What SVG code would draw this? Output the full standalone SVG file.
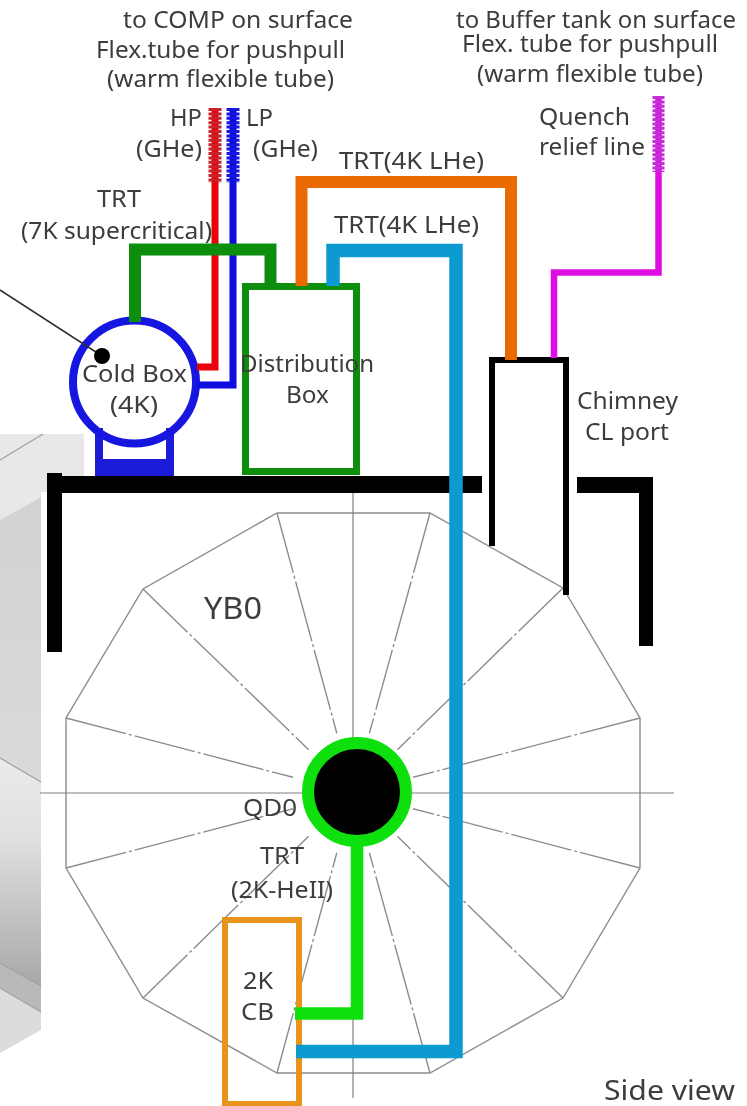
<svg xmlns="http://www.w3.org/2000/svg" width="747" height="1106" viewBox="0 0 747 1106">
<style>
text{font-family:"Noto Sans","Open Sans","Liberation Sans",sans-serif;font-size:23px;fill:#3c3c3c;}
.m{text-anchor:middle}
.p{fill:none;stroke-linejoin:miter}
.o{fill:none;stroke:#8c8c8c;stroke-width:1.4}
.r{stroke:#8c8c8c;stroke-width:1.4;stroke-dasharray:62 3 3 3}
.a{stroke:#808080;stroke-width:1.2}
.rib{stroke-dasharray:3 1.4;stroke-width:13;fill:none}
</style>
<defs>
<linearGradient id="g1" x1="0" y1="0" x2="0" y2="1"><stop offset="0" stop-color="#ebebeb"/><stop offset=".35" stop-color="#e0e0e0"/><stop offset="1" stop-color="#a8a8a8"/></linearGradient>
<linearGradient id="g2" x1="0" y1="0" x2="0" y2="1"><stop offset="0" stop-color="#d2d2d2"/><stop offset="1" stop-color="#dadada"/></linearGradient>
<filter id="soft" x="-2%" y="-2%" width="104%" height="104%"><feGaussianBlur stdDeviation="0.6"/></filter>
</defs>
<rect width="747" height="1106" fill="#fff"/>
<g id="scene" filter="url(#soft)">
<g id="background-block">
<polygon points="0,434 84,434 84,476 47,476 47,492 41,492 41,497 0,520" fill="#e8e8e8"/>
<polygon points="0,520 41,497 41,782 0,758" fill="url(#g2)"/>
<polygon points="0,758 41,782 41,986 0,963" fill="url(#g1)"/>
<polygon points="0,963 41,986 41,1012 0,988" fill="#b9b9b9"/>
<polygon points="0,988 41,1012 41,1030 0,1053" fill="#dcdcdc"/>
<path d="M0 460L43 434M0 758L41 782M0 963L41 986M0 988L41 1012" stroke="#a0a0a0" stroke-width="1.2" fill="none"/>
</g>
<g id="YB0-wheel">
<polygon class="o" points="277,513 430,513 563,588 640,718 640,868 563,998 430,1073 277,1073 143,998 66,868 66,718 143,589"/>
<path class="r" d="M277 513L336.8 733.2M430 513L369.4 733.2M563 588L397.4 749.7M640 718L413 777.3M640 868L413 808.7M563 998L397.4 836.3M430 1073L369.4 852.8M277 1073L336.8 852.8M143 998L308.6 836.3M66 868L293 808.7M66 718L293 777.3M143 589L308.6 749.7"/>
<path class="a" d="M353 490V1098M40 793H674"/>
<text x="233" y="619" class="m" style="font-size:30px" textLength="58" lengthAdjust="spacingAndGlyphs">YB0</text>
</g>
<g id="tunnel">
<path fill="#000" d="M47 473H62V476H482V493H62V652H47Z"/>
<path fill="#000" d="M577 477H653V646H639V493H577Z"/>
</g>
<g id="chimney">
<path class="p" d="M492 546V360H566V595" stroke="#000" stroke-width="6"/>
<text x="627.5" y="409" class="m" textLength="101" lengthAdjust="spacingAndGlyphs">Chimney</text>
<text x="627" y="440" class="m" textLength="84" lengthAdjust="spacingAndGlyphs">CL port</text>
</g>
<g id="cold-box">
<path fill="none" stroke="#1a1ad8" stroke-width="8" d="M99 428V476M170 428V476"/>
<rect x="95" y="459" width="79" height="17" fill="#1a1ad8"/>
<circle cx="134.5" cy="382" r="61.5" fill="none" stroke="#1414e0" stroke-width="8"/>
<path d="M0 290L102 356" stroke="#333" stroke-width="1.5" fill="none"/>
<circle cx="102" cy="356" r="8" fill="#000"/>
<text x="134.5" y="382" class="m" textLength="105" lengthAdjust="spacingAndGlyphs">Cold Box</text>
<text x="134" y="413" class="m" textLength="48" lengthAdjust="spacingAndGlyphs">(4K)</text>
</g>
<g id="distribution-box">
<rect x="245.5" y="286.5" width="111" height="185" fill="none" stroke="#0a8f10" stroke-width="7"/>
<text x="307" y="372" class="m" textLength="134" lengthAdjust="spacingAndGlyphs">Distribution</text>
<text x="307.5" y="403" class="m" textLength="43" lengthAdjust="spacingAndGlyphs">Box</text>
</g>
<g id="CB-2K">
<rect x="225" y="920" width="74" height="184" fill="none" stroke="#e8941a" stroke-width="6"/>
<text x="258" y="989" class="m" textLength="30" lengthAdjust="spacingAndGlyphs">2K</text>
<text x="257.5" y="1020" class="m" textLength="33" lengthAdjust="spacingAndGlyphs">CB</text>
</g>
<g id="QD0">
<circle cx="357" cy="792" r="49" fill="#000" stroke="#10e010" stroke-width="12"/>
<text x="270" y="816" class="m" textLength="54" lengthAdjust="spacingAndGlyphs">QD0</text>
</g>
<g id="connectors">
<path class="p" d="M215 108V367H197" stroke="#e8000a" stroke-width="7"/>
<path class="rib" d="M215 108V183" stroke="#c8202c"/>
<path class="p" d="M233 108V385H197" stroke="#0a0adf" stroke-width="7"/>
<path class="rib" d="M233 108V183" stroke="#1515e0"/>
<path class="p" d="M135 322V249.5H270.5V286" stroke="#0a8f10" stroke-width="12"/>
<path class="p" d="M301.5 286V182H511V360" stroke="#e86a00" stroke-width="12"/>
<path class="p" d="M554 358V272.5H658.5V96" stroke="#e010e0" stroke-width="6.5"/>
<path class="rib" d="M658.5 96V172" stroke="#c030d8" style="stroke-width:12"/>
<path class="p" d="M357 845V1013.5H295" stroke="#10e010" stroke-width="12.5"/>
<path class="p" d="M333 286V250.5H456V1051.5H296" stroke="#0a9ad0" stroke-width="13.5"/>
</g>
<g id="labels">
<text x="238" y="28" class="m" textLength="230" lengthAdjust="spacingAndGlyphs">to COMP on surface</text>
<text x="220.5" y="58" class="m" textLength="249" lengthAdjust="spacingAndGlyphs">Flex.tube for pushpull</text>
<text x="220.5" y="87" class="m" textLength="227" lengthAdjust="spacingAndGlyphs">(warm flexible tube)</text>
<text x="186" y="126" class="m" textLength="32" lengthAdjust="spacingAndGlyphs">HP</text>
<text x="169" y="157" class="m" textLength="66" lengthAdjust="spacingAndGlyphs">(GHe)</text>
<text x="259.5" y="126" class="m" textLength="27" lengthAdjust="spacingAndGlyphs">LP</text>
<text x="285.5" y="157" class="m" textLength="65" lengthAdjust="spacingAndGlyphs">(GHe)</text>
<text x="119" y="207" class="m" textLength="44" lengthAdjust="spacingAndGlyphs">TRT</text>
<text x="116.5" y="239" class="m" textLength="191" lengthAdjust="spacingAndGlyphs">(7K supercritical)</text>
<text x="411.5" y="169" class="m" textLength="145" lengthAdjust="spacingAndGlyphs">TRT(4K LHe)</text>
<text x="406.5" y="233" class="m" textLength="145" lengthAdjust="spacingAndGlyphs">TRT(4K LHe)</text>
<text x="596" y="28" class="m" textLength="280" lengthAdjust="spacingAndGlyphs">to Buffer tank on surface</text>
<text x="590" y="52" class="m" textLength="256" lengthAdjust="spacingAndGlyphs">Flex. tube for pushpull</text>
<text x="590" y="82" class="m" textLength="226" lengthAdjust="spacingAndGlyphs">(warm flexible tube)</text>
<text x="584.5" y="125" class="m" textLength="91" lengthAdjust="spacingAndGlyphs">Quench</text>
<text x="592" y="155" class="m" textLength="106" lengthAdjust="spacingAndGlyphs">relief line</text>
<text x="282" y="864" class="m" textLength="44" lengthAdjust="spacingAndGlyphs">TRT</text>
<text x="282" y="898" class="m" textLength="102" lengthAdjust="spacingAndGlyphs">(2K-HeII)</text>
<text x="604" y="1100" style="font-size:28px" textLength="131" lengthAdjust="spacingAndGlyphs">Side view</text>
</g>
</g>
</svg>
